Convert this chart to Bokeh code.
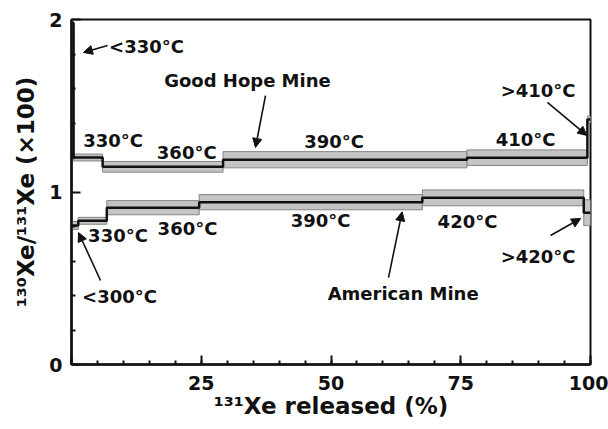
from bokeh.plotting import figure
from bokeh.models import (Range1d, FixedTicker, Label, Arrow, NormalHead,
                          ColumnDataSource)
from bokeh.embed import file_html
from bokeh.resources import INLINE

# ---- data: step-heating release of Xe ----
# cumulative 131Xe released (%) at the step boundaries
gh_edges = [0.0, 0.4, 6.0, 29.2, 76.2, 99.4, 100.0]
gh_steps = ["<330°C", "330°C", "360°C", "390°C", "410°C", ">410°C"]
gh_ratio = [1.98, 1.200, 1.146, 1.187, 1.199, 1.42]
gh_err = [0.02, 0.020, 0.031, 0.047, 0.045, 0.02]

am_edges = [0.0, 1.3, 6.8, 24.6, 67.6, 98.7, 100.0]
am_steps = ["<300°C", "330°C", "360°C", "390°C", "420°C", ">420°C"]
am_ratio = [0.806, 0.833, 0.909, 0.941, 0.966, 0.880]
am_err = [0.023, 0.020, 0.041, 0.044, 0.046, 0.075]

x_major = [0, 25, 50, 75, 100]
x_minor = list(range(0, 101, 5))
y_major = [0, 1, 2]
y_minor = [0.2, 0.4, 0.6, 0.8, 1.2, 1.4, 1.6, 1.8]

x_title = "¹³¹Xe released (%)"
y_title = "¹³⁰Xe/¹³¹Xe (×100)"

# annotation placement (data units)
gh_label_xy = [(14.45, 1.843), (8.0, 1.299), (22.2, 1.229), (50.6, 1.293),
               (87.5, 1.304), (89.9, 1.588)]
am_label_xy = [(9.25, 0.394), (8.96, 0.748), (22.35, 0.788), (48.0, 0.837),
               (76.3, 0.829), (89.9, 0.626)]
name_labels = [("Good Hope Mine", 33.9, 1.646), ("American Mine", 63.9, 0.412)]
arrows = [
    ((6.94, 1.849), (2.3, 1.809)),     # <330°C
    ((37.38, 1.559), (35.45, 1.258)),  # Good Hope Mine
    ((91.7, 1.519), (99.3, 1.328)),    # >410°C
    ((5.59, 0.487), (1.35, 0.765)),    # <300°C
    ((92.3, 0.748), (98.1, 0.846)),    # >420°C
    ((61.08, 0.504), (63.7, 0.885)),   # American Mine
]

FONT = "DejaVu Sans"
INK = "#111111"

p = figure(width=608, height=429, output_backend="svg", toolbar_location=None,
           x_range=Range1d(0, 100), y_range=Range1d(0, 2),
           min_border_left=71, min_border_right=18, min_border_top=19,
           min_border_bottom=65)
p.xgrid.visible = False
p.ygrid.visible = False
p.outline_line_color = INK
p.outline_line_width = 2
p.background_fill_color = "white"
p.border_fill_color = "white"


def draw_series(edges, ratio, err):
    src = ColumnDataSource(dict(
        left=edges[:-1], right=edges[1:],
        bottom=[v - e for v, e in zip(ratio, err)],
        top=[v + e for v, e in zip(ratio, err)]))
    p.quad(left="left", right="right", bottom="bottom", top="top", source=src,
           fill_color="#c4c4c4", line_color="#858585", line_width=1)
    p.step(x=edges, y=list(ratio) + [ratio[-1]], mode="after",
           line_color=INK, line_width=2.5)


draw_series(gh_edges, gh_ratio, gh_err)
draw_series(am_edges, am_ratio, am_err)

# axes
for ax in (p.xaxis[0], p.yaxis[0]):
    ax.axis_line_width = 2.5
    ax.axis_line_color = INK
    ax.major_tick_line_color = INK
    ax.minor_tick_line_color = INK
    ax.major_tick_line_width = 2
    ax.minor_tick_line_width = 2
    ax.major_tick_in = 9
    ax.major_tick_out = 0
    ax.minor_tick_in = 4
    ax.minor_tick_out = 0
    ax.major_label_text_font = FONT
    ax.major_label_text_font_style = "bold"
    ax.major_label_text_font_size = "19px"
    ax.major_label_text_color = INK
    ax.axis_label_text_font = FONT
    ax.axis_label_text_font_style = "bold"
    ax.axis_label_text_font_size = "23px"
    ax.axis_label_text_color = INK

p.xaxis.ticker = FixedTicker(ticks=x_major, minor_ticks=x_minor)
p.xaxis.major_label_overrides = {0: ""}
p.xaxis.major_label_standoff = 11
p.xaxis.axis_label = x_title
p.xaxis.axis_label_standoff = 0

p.yaxis.ticker = FixedTicker(ticks=y_major, minor_ticks=y_minor)
p.yaxis.major_label_standoff = 9
p.yaxis.axis_label = y_title
p.yaxis.axis_label_standoff = 7


# step annotations
def add_text(txt, x, y, size="18px"):
    p.add_layout(Label(x=x, y=y, text=txt, text_font=FONT,
                       text_font_style="bold", text_font_size=size,
                       text_color=INK, text_align="center",
                       text_baseline="middle"))


for txt, (x, y) in zip(gh_steps, gh_label_xy):
    add_text(txt, x, y)
for txt, (x, y) in zip(am_steps, am_label_xy):
    add_text(txt, x, y)
for txt, x, y in name_labels:
    add_text(txt, x, y)

for (x0, y0), (x1, y1) in arrows:
    p.add_layout(Arrow(x_start=x0, y_start=y0, x_end=x1, y_end=y1,
                       line_color=INK, line_width=1.6,
                       end=NormalHead(size=9, fill_color=INK, line_color=INK,
                                      line_width=1)))

open("out.html", "w").write(file_html(p, INLINE))
